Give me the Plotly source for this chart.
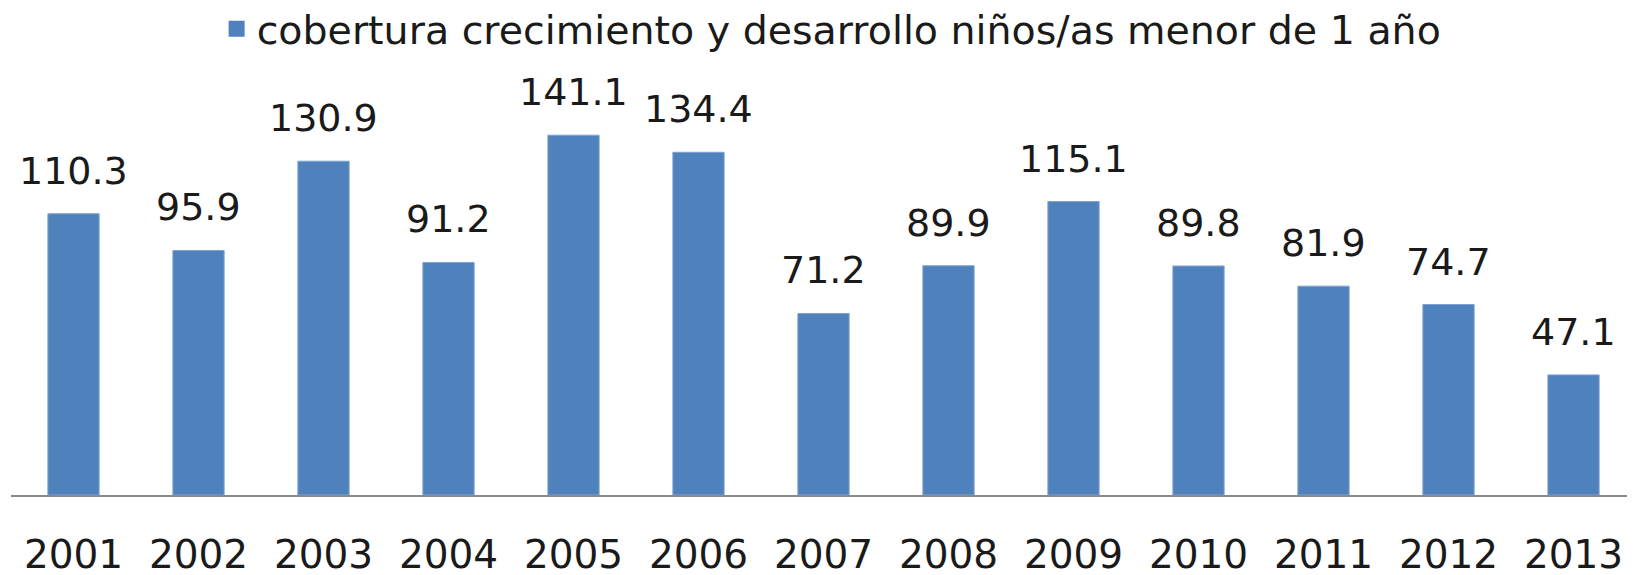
import plotly.graph_objects as go

years = ["2001", "2002", "2003", "2004", "2005", "2006", "2007",
         "2008", "2009", "2010", "2011", "2012", "2013"]
values = [110.3, 95.9, 130.9, 91.2, 141.1, 134.4, 71.2,
          89.9, 115.1, 89.8, 81.9, 74.7, 47.1]
series_name = "cobertura crecimiento y desarrollo niños/as menor de 1 año"

BAR_COLOR = "#4F81BD"
FONT = "DejaVu Sans"
TEXT_COLOR = "#1a1a1a"

fig = go.Figure()
fig.add_trace(go.Bar(
    x=years, y=values,
    marker=dict(color=BAR_COLOR, line=dict(color="#7fa3d0", width=1)),
    showlegend=False,
))
# legend entry with a larger square swatch
fig.add_trace(go.Scatter(
    x=[None], y=[None], mode="markers", name=series_name,
    marker=dict(symbol="square", size=22, color=BAR_COLOR),
))

# data labels: category index positions on the category axis
for i, v in enumerate(values):
    fig.add_annotation(x=i, y=v, text=f"{v:.1f}", showarrow=False,
                       xanchor="center", yanchor="bottom", yshift=19,
                       font=dict(family=FONT, size=38, color=TEXT_COLOR))

fig.update_layout(
    width=1635, height=575,
    margin=dict(l=3, r=7, t=79, b=88, autoexpand=False),
    paper_bgcolor="white", plot_bgcolor="white",
    bargap=0.59,
    font=dict(family=FONT, color=TEXT_COLOR),
    legend=dict(orientation="h", x=0.505, xanchor="center", y=0.9635, yref="container",
                yanchor="middle", font=dict(family=FONT, size=39.5, color=TEXT_COLOR),
                itemwidth=30, bgcolor="rgba(0,0,0,0)"),
    showlegend=True,
)
fig.update_xaxes(type="category", categoryorder="array", categoryarray=years,
                 range=[-0.5, len(years) - 0.5],
                 showline=True, linecolor="#8a8a8a", linewidth=2,
                 tickfont=dict(family=FONT, size=39, color=TEXT_COLOR),
                 ticks="", ticklabelstandoff=24, automargin=False)
fig.update_yaxes(range=[0, 160], visible=False, showgrid=False, automargin=False)

fig.write_html("out.html")
